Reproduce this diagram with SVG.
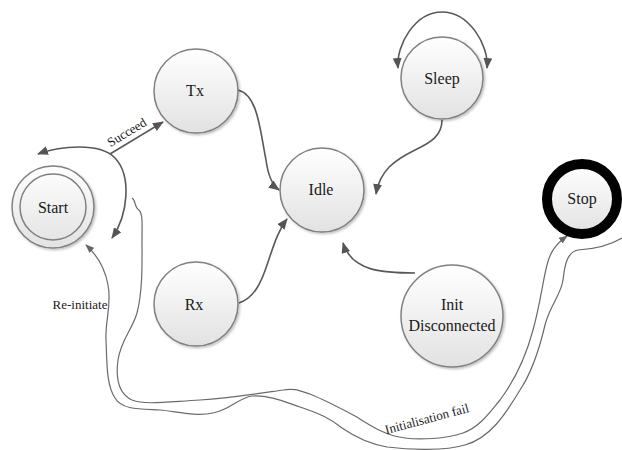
<svg xmlns="http://www.w3.org/2000/svg" width="622" height="450" viewBox="0 0 622 450">
<defs>
<linearGradient id="g" x1="0" y1="0" x2="0" y2="1">
<stop offset="0" stop-color="#ffffff"/>
<stop offset="1" stop-color="#e2e2e2"/>
</linearGradient>
<filter id="sh" x="-20%" y="-20%" width="150%" height="150%">
<feDropShadow dx="1.5" dy="1.5" stdDeviation="1.2" flood-color="#000" flood-opacity="0.25"/>
</filter>
<marker id="ah" markerUnits="userSpaceOnUse" markerWidth="11" markerHeight="9" refX="10" refY="4.5" orient="auto-start-reverse">
<path d="M0,0 L11,4.5 L0,9 z" fill="#555"/>
</marker>
<marker id="as" markerUnits="userSpaceOnUse" markerWidth="9" markerHeight="7" refX="8" refY="3.5" orient="auto-start-reverse">
<path d="M0,0 L9,3.5 L0,7 z" fill="#666"/>
</marker>
</defs>
<style>
.n{fill:url(#g);stroke:#808080;stroke-width:1.5;filter:url(#sh)}
text{font-family:"Liberation Serif","Times New Roman","DejaVu Serif",Times,serif;fill:#1a1a1a;text-anchor:middle}
.t{font-size:16px}
.l{font-size:13px}
.c{fill:none;stroke:#595959;stroke-width:1.6}
.w{fill:none;stroke:#6a6a6a;stroke-width:1.2}
</style>
<g id="connectors">
<path class="c" d="M38,154 C60,146 100,142 115,158 C132,176 128,215 112,238" marker-start="url(#ah)" marker-end="url(#ah)"/>
<path class="c" d="M110,154 L163,122" marker-end="url(#ah)"/>
<path class="c" d="M238,90 C258,95 260,130 266,160 C268,175 272,185 279,190" marker-end="url(#ah)"/>
<path class="c" d="M239,303 C255,298 262,280 267,265 C273,248 277,232 287,219" marker-end="url(#ah)"/>
<path class="c" d="M442,120 C442,135 432,142 415,150 C395,160 380,170 376,194" marker-end="url(#ah)"/>
<path class="c" d="M415,273 C385,273 352,272 343,243" marker-end="url(#ah)"/>
<path class="c" d="M398,68 C396,45 415,12 442,12 C469,12 489,45 487,68" marker-start="url(#ah)" marker-end="url(#ah)"/>
<path class="w" d="M622,238 C612,244 595,249 578,250 C568,252 565,262 563,280 C561,295 550,305 545,325 C538,355 530,375 520,390 C505,415 490,438 465,445 C445,451 410,450 387,447 C370,444 355,437 342,428 C330,418 318,413 300,407 C285,402 270,395 252,396 C238,398 230,410 213,413 C195,417 175,411 160,410 C140,409 122,410 115,398 C106,385 107,360 106,340 C105,320 112,305 108,285 C105,268 97,255 86,245" marker-end="url(#as)"/>
<path class="w" d="M132,198 C136,200 134,207 139,210 C143,214 142,225 142,240 C142,260 143,290 137,313 C132,330 121,340 118,360 C116,375 117,393 132,400 C145,405 165,402 200,400 C230,398 255,394 283,390 C295,388 300,391 310,394 C325,400 340,408 355,416 C370,425 385,436 405,438 C420,440 445,439 463,433 C480,427 490,412 500,400 C515,380 525,360 533,330 C540,305 543,280 547,265 C550,252 556,244 567,236" marker-end="url(#as)"/>
<text class="l" x="129" y="136" transform="rotate(-31 129 136)">Succeed</text>
<text class="l" x="80" y="309">Re-initiate</text>
<text class="l" x="428" y="423" transform="rotate(-15 428 423)">Initialisation fail</text>
</g>
<g id="start">
<circle class="n" cx="53" cy="207" r="41"/>
<circle cx="53" cy="207" r="33" fill="none" stroke="#808080" stroke-width="1.5"/>
<text class="t" x="53" y="213">Start</text>
</g>
<g id="tx">
<circle class="n" cx="196" cy="91" r="42"/>
<text class="t" x="195" y="96">Tx</text>
</g>
<g id="idle">
<circle class="n" cx="322" cy="190" r="42"/>
<text class="t" x="321" y="195">Idle</text>
</g>
<g id="sleep">
<circle class="n" cx="442" cy="78" r="41"/>
<text class="t" x="442" y="84">Sleep</text>
</g>
<g id="rx">
<circle class="n" cx="196" cy="304" r="42"/>
<text class="t" x="194" y="310">Rx</text>
</g>
<g id="init">
<circle class="n" cx="452" cy="316" r="51"/>
<text class="t" x="452" y="310">Init</text>
<text class="t" x="452" y="331">Disconnected</text>
</g>
<g id="stop">
<circle cx="582" cy="199" r="35" fill="url(#g)" stroke="#000" stroke-width="10"/>
<text class="t" x="582" y="204">Stop</text>
</g>
</svg>
